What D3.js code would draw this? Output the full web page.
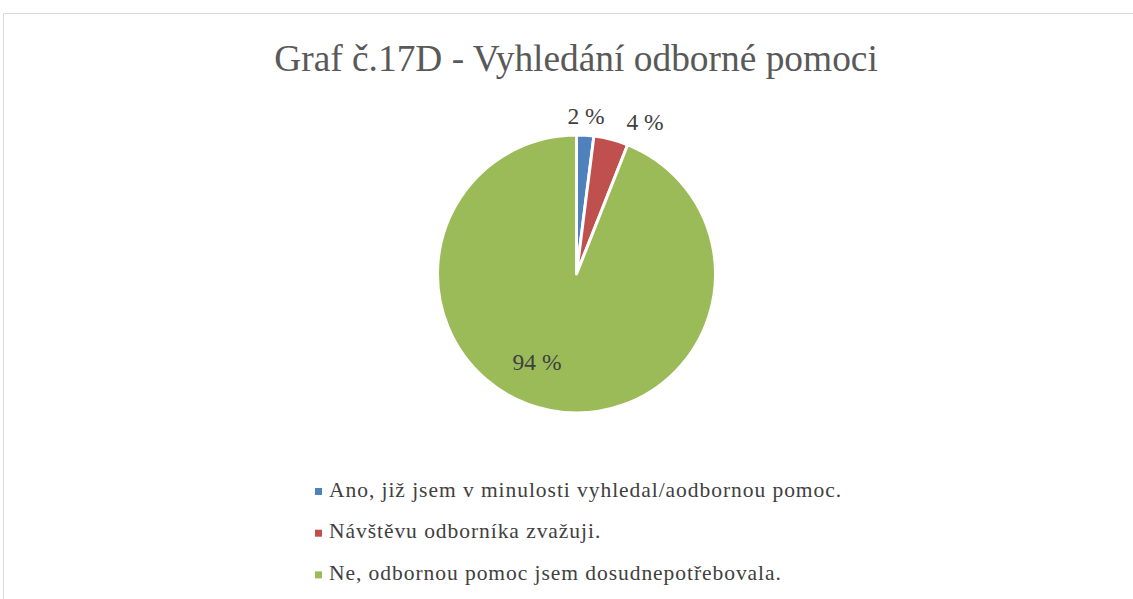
<!DOCTYPE html>
<html><head><meta charset="utf-8">
<script src="https://cdn.jsdelivr.net/npm/d3@7"></script>
<style>body{margin:0;background:#fff;} svg{display:block;}</style>
</head><body>
<svg id="c" width="1133" height="599"></svg>
<script>
const categories = ["Ano, již jsem v minulosti vyhledal/aodbornou pomoc.", "Návštěvu odborníka zvažuji.", "Ne, odbornou pomoc jsem dosudnepotřebovala."];
const values = [2, 4, 94];
const labels = ["2 %", "4 %", "94 %"];
const colors = ["#4F81BD", "#C0504D", "#9BBB59"];
const title = "Graf č.17D - Vyhledání odborné pomoci";

const svg = d3.select("#c");
const font = "Liberation Serif";
svg.append("path").attr("d","M3.5,599 V13.5 H1133").attr("fill","none").attr("stroke","#d9d9d9").attr("stroke-width",1);

svg.append("text").attr("x",576).attr("y",71).attr("text-anchor","middle")
  .attr("font-family",font).attr("font-size",37.4).attr("fill","#595959").text(title);

const cx=576.5, cy=274, r=139;
const pie = d3.pie().sort(null).value(d=>d)(values);
const arc = d3.arc().innerRadius(0).outerRadius(r);
const g = svg.append("g").attr("transform",`translate(${cx},${cy})`);
g.selectAll("path").data(pie).join("path").attr("d",arc)
  .attr("fill",(d,i)=>colors[i]).attr("stroke","#fff").attr("stroke-width",3).attr("stroke-linejoin","round");

const labelPos = [[586,124],[645,130],[537,370]];
svg.selectAll("text.lbl").data(labels).join("text").attr("class","lbl")
  .attr("x",(d,i)=>labelPos[i][0]).attr("y",(d,i)=>labelPos[i][1]).attr("text-anchor","middle")
  .attr("font-family",font).attr("font-size",23.5).attr("fill","#404040").text(d=>d);

const leg = svg.selectAll("g.leg").data(categories).join("g").attr("class","leg")
  .attr("transform",(d,i)=>`translate(315,${491.5+i*41.7})`);
leg.append("rect").attr("x",0).attr("y",-3.5).attr("width",7).attr("height",7).attr("fill",(d,i)=>colors[i]);
leg.append("text").attr("x",14).attr("y",5).attr("font-family",font).attr("font-size",21.5)
  .attr("letter-spacing",0.95).attr("fill","#404040").text(d=>d);
</script>
</body></html>
